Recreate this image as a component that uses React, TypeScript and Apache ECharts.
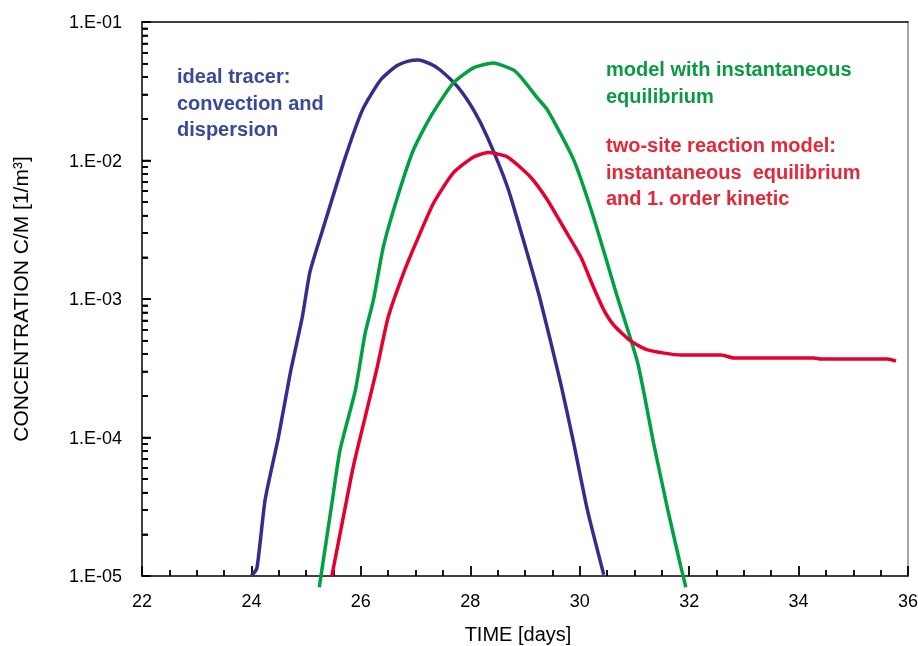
import React, { useEffect, useRef } from 'react';
import * as echarts from 'echarts';

const FONT = '"Liberation Sans", Arial, Helvetica, sans-serif';

// ideal tracer: convection and dispersion
const blueTime = [24.0, 24.1, 24.25, 24.49, 24.71, 24.93, 25.07, 25.29, 25.7, 26.03, 26.36, 26.65, 26.87, 27.05, 27.27, 27.45, 27.77, 28.06, 28.31, 28.68, 28.97, 29.28, 29.65, 29.89, 30.14, 30.44];
const blueConc = [1.0e-5, 1.14e-5, 3.54e-5, 9.9e-5, 2.92e-4, 7.41e-4, 1.57e-3, 3.05e-3, 1.01e-2, 2.32e-2, 3.81e-2, 4.81e-2, 5.22e-2, 5.32e-2, 4.98e-2, 4.5e-2, 3.4e-2, 2.32e-2, 1.48e-2, 6.44e-3, 2.67e-3, 9.84e-4, 2.48e-4, 9.12e-5, 3.0e-5, 1.02e-5];

// model with instantaneous equilibrium
const greenTime = [25.24, 25.48, 25.62, 25.9, 26.08, 26.23, 26.41, 26.67, 26.96, 27.27, 27.69, 28.06, 28.42, 28.79, 28.92, 29.23, 29.41, 29.89, 30.25, 30.69, 31.06, 31.35, 31.61, 31.85, 31.94];
const greenConc = [8.3e-6, 3.54e-5, 8.13e-5, 2.2e-4, 5.69e-4, 9.84e-4, 2.37e-3, 5.45e-3, 1.19e-2, 2.06e-2, 3.63e-2, 4.66e-2, 5.06e-2, 4.5e-2, 4.01e-2, 2.82e-2, 2.32e-2, 1.01e-2, 3.91e-3, 1.03e-3, 3.45e-4, 9.12e-5, 3.0e-5, 1.16e-5, 8.3e-6];

// two-site reaction model
const redTime = [25.47, 25.68, 25.86, 26.08, 26.3, 26.5, 26.78, 27.03, 27.33, 27.69, 28.06, 28.33, 28.68, 29.1, 29.41, 29.7, 30.02, 30.25, 30.44, 30.62, 30.93, 31.24, 31.85, 32.58, 32.82, 34.28, 34.41, 35.63, 35.78];
const redConc = [1.0e-5, 2.67e-5, 6.12e-5, 1.41e-4, 3.23e-4, 7.41e-4, 1.54e-3, 2.67e-3, 4.93e-3, 8.13e-3, 1.06e-2, 1.14e-2, 1.06e-2, 7.6e-3, 5.19e-3, 3.31e-3, 2.01e-3, 1.22e-3, 8.34e-4, 6.49e-4, 4.98e-4, 4.29e-4, 3.94e-4, 3.94e-4, 3.75e-4, 3.75e-4, 3.69e-4, 3.69e-4, 3.56e-4];

// y axis: decades (exponents) and minor multipliers
const yDecades = [-5, -4, -3, -2, -1];
const yMinorMultipliers = [2, 3, 4, 5, 6, 7, 8, 9];
const X_MIN = 22;
const X_MAX = 36;

const blueNote = ['ideal tracer:', 'convection and', 'dispersion'];
const greenNote = ['model with instantaneous', 'equilibrium'];
const redNote = ['two-site reaction model:', 'instantaneous  equilibrium', 'and 1. order kinetic'];

const BLUE_LINE = '#3b2a8d';
const BLUE_TEXT = '#3a4898';
const GREEN = '#00a043';
const GREEN_TEXT = '#0a9a44';
const RED_LINE = '#e4002f';
const RED_TEXT = '#e3283a';

const pairs = (xs: number[], ys: number[]) => xs.map((x, i) => [x, ys[i]]);

// minor tick positions in exponent space (for a linear helper axis)
const minorTickExp: number[] = [];
yDecades.slice(0, -1).forEach((d) => yMinorMultipliers.forEach((m) => minorTickExp.push(d + Math.log10(m))));

// y tick marks as [x, value, length] for the tick-drawing custom series
const yTickItems: number[][] = [];
yDecades.forEach((d) => yTickItems.push([X_MIN, Math.pow(10, d), 9]));
yDecades.slice(0, -1).forEach((d) => yMinorMultipliers.forEach((m) => yTickItems.push([X_MIN, m * Math.pow(10, d), 6])));

const fmtLog = (v: number) => {
  const e = Math.round(Math.log10(v));
  const a = Math.abs(e);
  return '1.E' + (e < 0 ? '-' : '+') + (a < 10 ? '0' + a : String(a));
};

export default function App() {
  const ref = useRef<HTMLDivElement>(null);
  useEffect(() => {
    const chart = echarts.init(ref.current!, null, { renderer: 'svg' });
    const lineSeries = (name: string, xs: number[], ys: number[], color: string) => ({
      name,
      type: 'line',
      data: pairs(xs, ys),
      xAxisIndex: 0,
      yAxisIndex: 0,
      showSymbol: false,
      symbol: 'none',
      smooth: 0.2,
      clip: false,
      lineStyle: { color, width: 3.5 },
      itemStyle: { color },
      z: 3,
    });
    const note = (lines: string[], x: number, y: number, color: string, lh: number) => ({
      type: 'text',
      x,
      y,
      z: 10,
      style: {
        text: lines.join('\n'),
        fill: color,
        fontFamily: FONT,
        fontWeight: 'bold',
        fontSize: 20,
        lineHeight: lh,
        align: 'left',
        verticalAlign: 'top',
      },
    });
    const tickStyle = { color: '#000', width: 1.8 };
    chart.setOption({
      animation: false,
      textStyle: { fontFamily: FONT },
      grid: { left: 142, right: 10, top: 22, bottom: 70, containLabel: false, outerBoundsMode: 'none' },
      xAxis: [
        {
          type: 'value',
          min: X_MIN,
          max: X_MAX,
          interval: 2,
          position: 'bottom',
          name: 'TIME [days]',
          nameLocation: 'middle',
          nameGap: 48,
          nameTextStyle: { color: '#000', fontSize: 20, fontFamily: FONT, padding: [0, 14, 0, 0] },
          axisLine: { show: true, lineStyle: { color: '#000', width: 1.5 } },
          axisTick: { show: true, inside: true, length: 10, lineStyle: tickStyle },
          minorTick: { show: true, splitNumber: 4, length: 6, lineStyle: tickStyle },
          axisLabel: { color: '#000', fontSize: 18, fontFamily: FONT, margin: 16 },
          splitLine: { show: false },
        },
        {
          type: 'value',
          min: X_MIN,
          max: X_MAX,
          position: 'top',
          axisLine: { show: true, onZero: false, lineStyle: { color: '#000', width: 1.5 } },
          axisTick: { show: false },
          axisLabel: { show: false },
          splitLine: { show: false },
        },
      ],
      yAxis: [
        {
          type: 'log',
          logBase: 10,
          min: 1e-5,
          max: 0.1,
          position: 'left',
          name: 'CONCENTRATION C/M [1/m³]',
          nameLocation: 'middle',
          nameGap: 111,
          nameTextStyle: { color: '#000', fontSize: 21, fontFamily: FONT },
          axisLine: { show: true, lineStyle: { color: '#000', width: 1.5 } },
          axisTick: { show: true, inside: true, length: 9, lineStyle: tickStyle },
          axisLabel: { color: '#000', fontSize: 18, fontFamily: FONT, margin: 20, formatter: fmtLog },
          splitLine: { show: false },
        },
        {
          type: 'value',
          min: yDecades[0],
          max: yDecades[yDecades.length - 1],
          position: 'left',
          axisLine: { show: false },
          axisLabel: { show: false },
          splitLine: { show: false },
          axisTick: { show: true, inside: true, length: 6, customValues: minorTickExp, lineStyle: tickStyle },
        },
        {
          type: 'value',
          min: 0,
          max: 1,
          position: 'right',
          axisLine: { show: true, onZero: false, lineStyle: { color: '#8a8a8a', width: 1.5 } },
          axisTick: { show: false },
          axisLabel: { show: false },
          splitLine: { show: false },
        },
      ],
      series: [
        lineSeries('ideal tracer', blueTime, blueConc, BLUE_LINE),
        lineSeries('model with instantaneous equilibrium', greenTime, greenConc, GREEN),
        lineSeries('two-site reaction model', redTime, redConc, RED_LINE),
        {
          name: 'y ticks',
          type: 'custom',
          xAxisIndex: 0,
          yAxisIndex: 0,
          silent: true,
          clip: false,
          z: 4,
          data: yTickItems,
          encode: { x: 0, y: 1 },
          renderItem: (_params: any, api: any) => {
            const p = api.coord([api.value(0), api.value(1)]);
            const len = api.value(2);
            return {
              type: 'line',
              shape: { x1: p[0], y1: p[1], x2: p[0] + len, y2: p[1] },
              style: { stroke: '#000', lineWidth: 1.5 },
            };
          },
        },
      ],
      graphic: [
        note(blueNote, 177, 63, BLUE_TEXT, 26.5),
        note(greenNote, 606, 55, GREEN_TEXT, 27),
        note(redNote, 606, 132, RED_TEXT, 26.5),
      ],
    });
    return () => chart.dispose();
  }, []);
  return <div ref={ref} style={{ position: 'fixed', left: 0, top: 0, width: 918, height: 646 }} />;
}
